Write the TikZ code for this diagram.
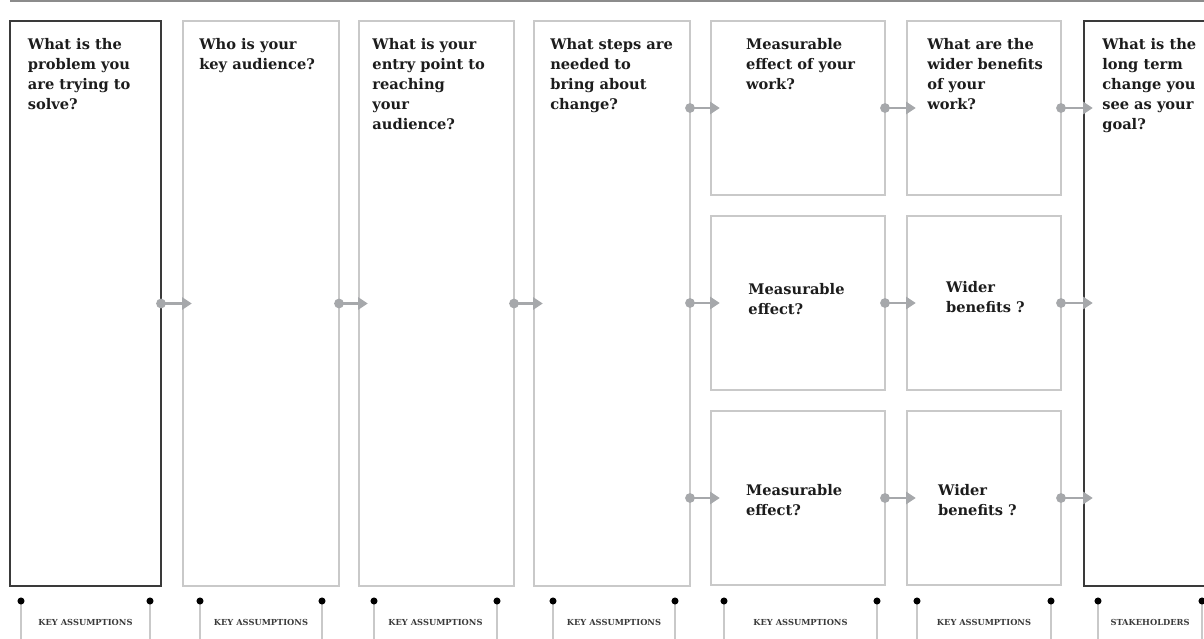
\documentclass[tikz,border=0pt]{standalone}
\usepackage{fontspec}
\setmainfont{DejaVu Serif}
\usepackage{tikz}
\usetikzlibrary{arrows.meta,positioning}
\definecolor{boxgrey}{HTML}{C9C9C9}
\definecolor{darkline}{HTML}{3A3A3A}
\definecolor{flowgrey}{HTML}{A6A8AB}
\definecolor{rulegrey}{HTML}{8C8C8C}
\definecolor{txt}{HTML}{1C1C1C}
\tikzstyle{cell}=[rectangle,draw=boxgrey,line width=1.1pt,inner sep=0pt,outer sep=0pt,minimum height=4.35cm]
\tikzstyle{column}=[cell,minimum height=14.125cm]
\tikzstyle{outer}=[column,draw=darkline,line width=1.4pt]
\tikzstyle{question}=[anchor=north west,inner sep=0pt,align=left,text=txt,font=\fontsize{10.4}{14.2}\selectfont\bfseries]
\tikzstyle{flow}=[{Circle[length=0.24cm]}-{Triangle[length=0.24cm,width=0.3cm]},draw=flowgrey,fill=flowgrey,line width=1.6pt]
\tikzstyle{stem}=[draw=boxgrey,line width=1.1pt]
\tikzstyle{tag}=[inner sep=0pt,text=darkline,font=\fontsize{5.9}{7}\selectfont\bfseries]

\begin{document}
\begin{tikzpicture}

    \useasboundingbox (0,0) rectangle (30.1,-15.975);
    \coordinate (rulestart) at (0.25,-0.03);
    \coordinate (ruleend) at (30.1,-0.03);
    \draw[rulegrey,line width=1pt] (rulestart) -- (ruleend);

    % Spalten
    \node[outer,minimum width=3.775cm,anchor=north west] (problem) at (0.25,-0.525) {};
    \node[column,minimum width=3.9cm] (audience) [right=0.55cm of problem] {};
    \node[column,minimum width=3.875cm] (entry) [right=0.5cm of audience] {};
    \node[column,minimum width=3.9cm] (steps) [right=0.5cm of entry] {};
    \node[cell,minimum width=4.35cm] (effectA) [below right=0cm and 0.525cm of steps.north east] {};
    \node[cell,minimum width=4.35cm] (effectB) [below=0.525cm of effectA] {};
    \node[cell,minimum width=4.35cm] (effectC) [below=0.525cm of effectB] {};
    \node[cell,minimum width=3.85cm] (benefitA) [right=0.55cm of effectA] {};
    \node[cell,minimum width=3.85cm] (benefitB) [right=0.55cm of effectB] {};
    \node[cell,minimum width=3.85cm] (benefitC) [right=0.55cm of effectC] {};
    \node[outer,minimum width=3.9cm] (goal) [below right=0cm and 0.575cm of benefitA.north east] {};

    % Fragen
    \node[question] (qproblem) [below right=0.42cm and 0.44cm of problem.north west] {What is the\\problem you\\are trying to\\solve?};
    \node[question] (qaudience) [below right=0.42cm and 0.4cm of audience.north west] {Who is your\\key audience?};
    \node[question] (qentry) [below right=0.42cm and 0.33cm of entry.north west] {What is your\\entry point to\\reaching\\your\\audience?};
    \node[question] (qsteps) [below right=0.42cm and 0.4cm of steps.north west] {What steps are\\needed to\\bring about\\change?};
    \node[question] (qeffectA) [below right=0.42cm and 0.87cm of effectA.north west] {Measurable\\effect of your\\work?};
    \node[question] (qbenefitA) [below right=0.42cm and 0.5cm of benefitA.north west] {What are the\\wider benefits\\of your\\work?};
    \node[question] (qgoal) [below right=0.42cm and 0.45cm of goal.north west] {What is the\\long term\\change you\\see as your\\goal?};
    \node[question] (qeffectB) [below right=1.68cm and 0.93cm of effectB.north west] {Measurable\\effect?};
    \node[question] (qbenefitB) [below right=1.63cm and 0.97cm of benefitB.north west] {Wider\\benefits ?};
    \node[question] (qeffectC) [below right=1.83cm and 0.87cm of effectC.north west] {Measurable\\effect?};
    \node[question] (qbenefitC) [below right=1.83cm and 0.77cm of benefitC.north west] {Wider\\benefits ?};

    % Pfeile
    \draw[flow] ([xshift=-1.2mm]problem.east) -- ([xshift=2.2mm]audience.west);
    \draw[flow] ([xshift=-1.2mm]audience.east) -- ([xshift=2.2mm]entry.west);
    \draw[flow] ([xshift=-1.2mm]entry.east) -- ([xshift=2.2mm]steps.west);
    \foreach \row in {A,B,C} {
        \draw[flow] ([xshift=-1.2mm]steps.east |- effect\row.west) -- ([xshift=2.2mm]effect\row.west);
        \draw[flow] ([xshift=-1.2mm]effect\row.east) -- ([xshift=2.2mm]benefit\row.west);
        \draw[flow] ([xshift=-1.2mm]benefit\row.east) -- ([xshift=2.2mm]benefit\row.east -| goal.west);
    }

    % Annahmen
    \coordinate (floor) at (0,-15.975);
    \foreach \l/\r/\t [count=\i] in {0.525/3.75/KEY ASSUMPTIONS, 5.0/8.05/KEY ASSUMPTIONS, 9.35/12.425/KEY ASSUMPTIONS, 13.825/16.875/KEY ASSUMPTIONS, 18.1/21.925/KEY ASSUMPTIONS, 22.925/26.275/KEY ASSUMPTIONS, 27.45/30.05/STAKEHOLDERS} {
        \coordinate (pinL\i) at (\l,-15.025);
        \coordinate (pinR\i) at (\r,-15.025);
        \draw[stem] (pinL\i) -- (pinL\i |- floor);
        \draw[stem] (pinR\i) -- (pinR\i |- floor);
        \fill (pinL\i) circle (0.088cm);
        \fill (pinR\i) circle (0.088cm);
        \path (pinL\i) -- (pinR\i) node[tag,midway,yshift=-0.525cm] (note\i) {\t};
    }

\end{tikzpicture}
\end{document}
